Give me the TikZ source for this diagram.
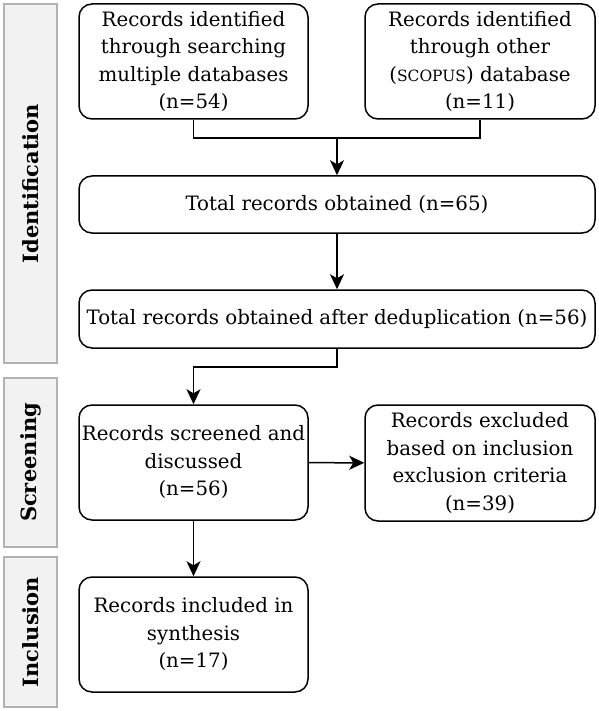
\documentclass[tikz,border=0pt]{standalone}
\usepackage{fontspec}
\setmainfont{DejaVu Serif}
\usetikzlibrary{arrows.meta}

\begin{document}
\begin{tikzpicture}[
        x=1pt, y=-1pt,
        phase/.style={draw=gray!60, fill=gray!10, line width=1.6pt, rotate=90,
            font=\bfseries\fontsize{21}{25}\selectfont, inner sep=0pt, minimum height=53pt},
        box/.style={draw, rounded corners=13pt, line width=1.5pt, align=center,
            inner sep=0pt, font=\fontsize{19.8}{27.5}\selectfont},
        flow/.style={line width=1.5pt, -{Stealth[length=15pt, width=14pt, inset=4pt]}} % arrows between boxes
    ]

    \useasboundingbox (0,0) rectangle (598,711);

    % --- Phase labels on the left ---
    \node[phase, minimum width=359pt] (identification) at (30.5,183.5) {Identification};
    \node[phase, minimum width=169pt] (screening) at (30.5,462.5) {Screening};
    \node[phase, minimum width=150pt] (inclusion) at (30.5,632) {Inclusion};

    % --- Identification boxes ---
    \node[box, minimum width=229pt, minimum height=115pt] (searchdb) at (193.5,61.5)
        {Records identified\\ through searching\\ multiple databases\\ (n=54)};
    \node[box, minimum width=230pt, minimum height=115pt] (scopusdb) at (480,61.5)
        {Records identified\\ through other\\ ({\fontsize{15.5}{27.5}\selectfont SCOPUS}) database\\ (n=11)};
    \node[box, minimum width=516pt, minimum height=57pt] (total) at (337,204.5)
        {Total records obtained (n=65)};
    \node[box, minimum width=516pt, minimum height=58pt] (dedup) at (337,319)
        {Total records obtained after deduplication (n=56)};

    % --- Screening and inclusion boxes ---
    \node[box, minimum width=229pt, minimum height=115pt] (screened) at (193.5,462.5)
        {Records screened and\\ discussed\\ (n=56)};
    \node[box, minimum width=230pt, minimum height=116pt] (excluded) at (480,463)
        {Records excluded\\ based on inclusion\\ exclusion criteria\\ (n=39)};
    \node[box, minimum width=229pt, minimum height=115pt] (included) at (193.5,634.5)
        {Records included in\\ synthesis\\ (n=17)};

    % --- Connectors ---
    \coordinate (merge) at (337,138);
    \coordinate (split) at (193.5,367);

    \draw[line width=1.5pt] (searchdb.south) |- (merge) -| (scopusdb.south);
    \draw[flow] (merge) -- (total);
    \draw[flow] (total) -- (dedup);
    \draw[flow] (dedup.south) |- (split) -- (screened.north);
    \draw[flow] (screened) -- (excluded);
    \draw[flow] (screened) -- (included);

\end{tikzpicture}
\end{document}
